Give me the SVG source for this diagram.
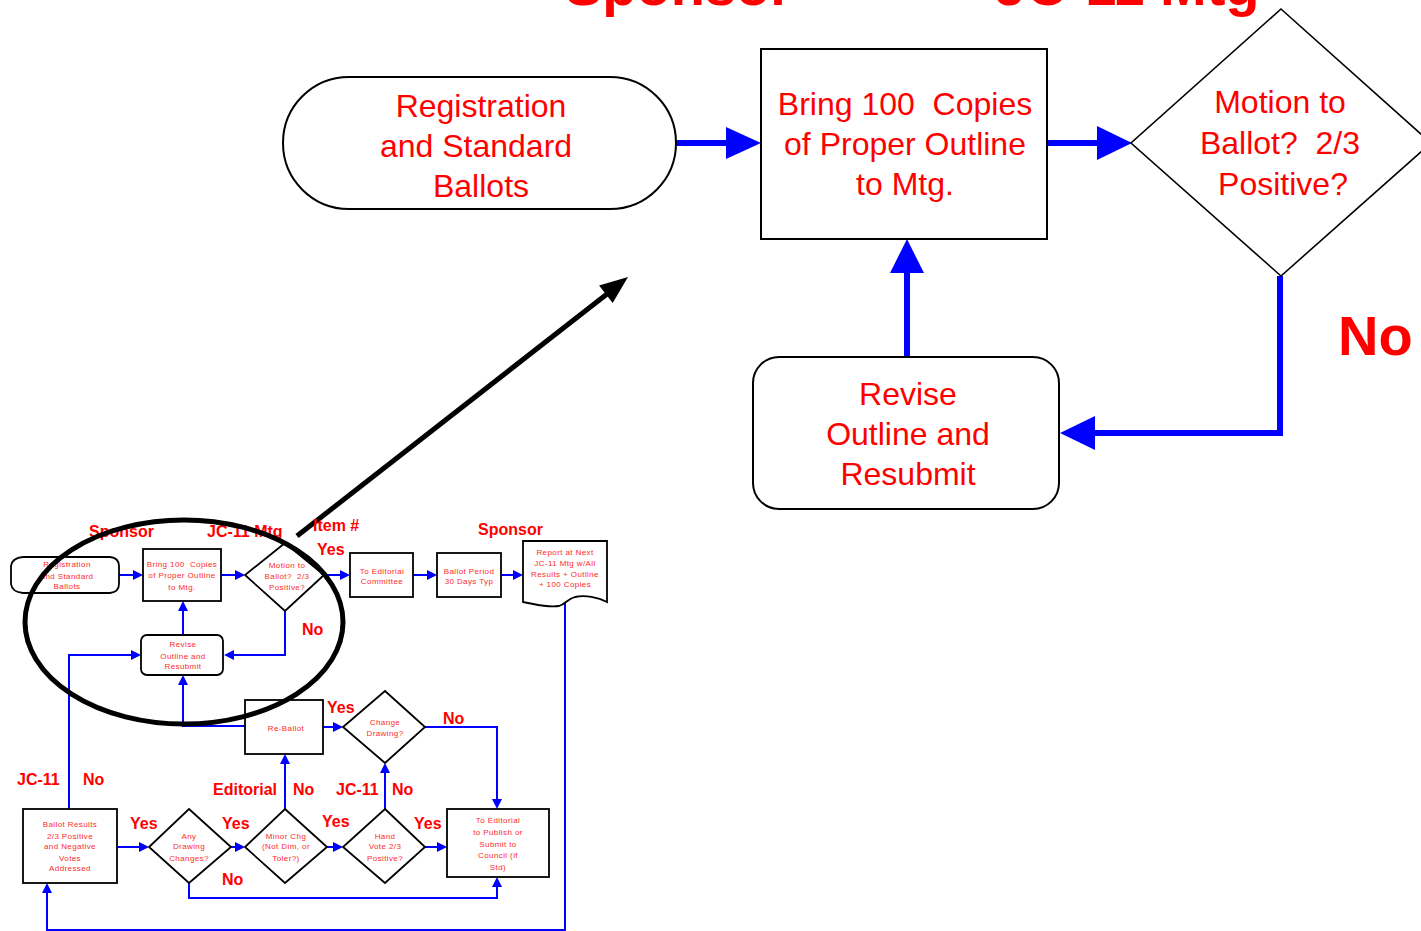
<svg xmlns="http://www.w3.org/2000/svg" width="1421" height="931" viewBox="0 0 1421 931">
<defs>
<style>
.big{font-family:"Liberation Sans",Arial,sans-serif;font-size:32px;fill:#ff0000;text-anchor:middle;white-space:pre}
.sm{font-family:"Liberation Sans",Arial,sans-serif;font-size:8px;letter-spacing:0.4px;fill:#ff2a2a;text-anchor:middle;white-space:pre}
.lbl{font-family:"Liberation Sans",Arial,sans-serif;font-size:16px;font-weight:bold;fill:#ff0000}
.hdr{font-family:"Liberation Sans",Arial,sans-serif;font-size:56px;font-weight:bold;fill:#ff0000}
.shape{fill:#fff;stroke:#000;stroke-width:2}
.sshape{fill:#fff;stroke:#000;stroke-width:1.8}
.bline{fill:none;stroke:#0000ff;stroke-width:6}
.sline{fill:none;stroke:#0000ff;stroke-width:2}
.head{fill:#0000ff}
</style>
</defs>
<rect width="1421" height="931" fill="#fff"/>

<text class="hdr" x="565" y="5">Sponsor</text>
<text class="hdr" x="995" y="5">JC-11 Mtg</text>

<g id="connectors">
  <line class="bline" x1="676" y1="143" x2="727" y2="143"/>
  <polygon class="head" points="726,127 761,143 726,159"/>
  <line class="bline" x1="1047" y1="143" x2="1098" y2="143"/>
  <polygon class="head" points="1097,126 1132,143 1097,160"/>
  <line class="bline" x1="907" y1="357" x2="907" y2="272"/>
  <polygon class="head" points="890,273 907,239 924,273"/>
  <polyline class="bline" points="1280,276 1280,433 1094,433"/>
  <polygon class="head" points="1095,416 1060,433 1095,450"/>
  <line x1="297" y1="536" x2="607" y2="294" stroke="#000" stroke-width="5"/>
  <polygon points="628,277 612.7,303 599.1,285.6" fill="#000"/>
  <line class="sline" x1="119" y1="575" x2="134" y2="575"/><polygon class="head" points="133,570 143,575 133,580"/>
  <line class="sline" x1="221" y1="575" x2="236" y2="575"/><polygon class="head" points="235,570 245,575 235,580"/>
  <line class="sline" x1="324" y1="575" x2="341" y2="575"/><polygon class="head" points="340,570 350,575 340,580"/>
  <line class="sline" x1="413" y1="575" x2="428" y2="575"/><polygon class="head" points="427,570 437,575 427,580"/>
  <line class="sline" x1="501" y1="575" x2="514" y2="575"/><polygon class="head" points="513,570 523,575 513,580"/>
  <polyline class="sline" points="285,611 285,655 233,655"/><polygon class="head" points="234,650 224,655 234,660"/>
  <line class="sline" x1="183" y1="635" x2="183" y2="610"/><polygon class="head" points="178,611 183,601 188,611"/>
  <polyline class="sline" points="245,726 183,726 183,684"/><polygon class="head" points="178,685 183,675 188,685"/>
  <polyline class="sline" points="69,809 69,655 132,655"/><polygon class="head" points="131,650 141,655 131,660"/>
  <polyline class="sline" points="565,600 565,930 47,930 47,892"/><polygon class="head" points="42,893 47,883 52,893"/>
  <line class="sline" x1="323" y1="727" x2="334" y2="727"/><polygon class="head" points="333,722 343,727 333,732"/>
  <polyline class="sline" points="425,727 497,727 497,800"/><polygon class="head" points="492,799 497,809 502,799"/>
  <line class="sline" x1="117" y1="847" x2="140" y2="847"/><polygon class="head" points="139,842 149,847 139,852"/>
  <line class="sline" x1="231" y1="847" x2="236" y2="847"/><polygon class="head" points="235,842 245,847 235,852"/>
  <polyline class="sline" points="189,883 189,898 497,898 497,886"/><polygon class="head" points="492,887 497,877 502,887"/>
  <line class="sline" x1="285" y1="809" x2="285" y2="763"/><polygon class="head" points="280,764 285,754 290,764"/>
  <line class="sline" x1="327" y1="847" x2="334" y2="847"/><polygon class="head" points="333,842 343,847 333,852"/>
  <line class="sline" x1="385" y1="809" x2="385" y2="772"/><polygon class="head" points="380,773 385,763 390,773"/>
  <line class="sline" x1="425" y1="847" x2="438" y2="847"/><polygon class="head" points="437,842 447,847 437,852"/>
</g>

<g id="big-registration">
  <path class="shape" d="M349,77 H610 A66,66 0 0 1 610,209 H349 A66,66 0 0 1 349,77 Z"/>
  <text class="big" x="481" y="117">Registration</text>
  <text class="big" x="476" y="157">and Standard</text>
  <text class="big" x="481" y="197">Ballots</text>
</g>
<g id="big-bring">
  <rect class="shape" x="761" y="49" width="286" height="190"/>
  <text class="big" x="905" y="115">Bring 100  Copies</text>
  <text class="big" x="905" y="155">of Proper Outline</text>
  <text class="big" x="905" y="195">to Mtg.</text>
</g>
<g id="big-motion">
  <polygon class="shape" style="stroke-width:1.6" points="1281,9 1431,143 1281,276 1131,143"/>
  <text class="big" x="1280" y="113">Motion to</text>
  <text class="big" x="1280" y="154">Ballot?  2/3</text>
  <text class="big" x="1283" y="195">Positive?</text>
</g>
<g id="big-revise">
  <rect class="shape" x="753" y="357" width="306" height="152" rx="26" ry="26"/>
  <text class="big" x="908" y="405">Revise</text>
  <text class="big" x="908" y="445">Outline and</text>
  <text class="big" x="908" y="485">Resubmit</text>
</g>
<text class="hdr" x="1338" y="355">No</text>

<g id="s-registration">
  <path class="sshape" d="M23,557 H110 Q119,558 119,566 V584 Q119,592 110,593 H23 Q12,592 11,584 V566 Q12,558 23,557 Z"/>
  <text class="sm" x="67" y="567">Registration</text>
  <text class="sm" x="67" y="579">and Standard</text>
  <text class="sm" x="67" y="589">Ballots</text>
</g>
<g id="s-bring">
  <rect class="sshape" x="143" y="549" width="78" height="52"/>
  <text class="sm" x="182" y="567">Bring 100  Copies</text>
  <text class="sm" x="182" y="578">of Proper Outline</text>
  <text class="sm" x="182" y="590">to Mtg.</text>
</g>
<g id="s-motion">
  <polygon class="sshape" points="285,543 324,575 285,611 245,575"/>
  <text class="sm" x="287" y="568">Motion to</text>
  <text class="sm" x="287" y="579">Ballot?  2/3</text>
  <text class="sm" x="287" y="590">Positive?</text>
</g>
<g id="s-editorial">
  <rect class="sshape" x="350" y="553" width="63" height="44"/>
  <text class="sm" x="382" y="574">To Editorial</text>
  <text class="sm" x="382" y="584">Committee</text>
</g>
<g id="s-ballot-period">
  <rect class="sshape" x="437" y="553" width="64" height="44"/>
  <text class="sm" x="469" y="574">Ballot Period</text>
  <text class="sm" x="469" y="584">30 Days Typ</text>
</g>
<g id="s-report">
  <path class="sshape" d="M523,541 H607 V602 C598,597 585,595 575,597 C567,599 566,604 559,606 C547,608 535,604 523,602 Z"/>
  <text class="sm" x="565" y="555">Report at Next</text>
  <text class="sm" x="565" y="566">JC-11 Mtg w/All</text>
  <text class="sm" x="565" y="577">Results + Outline</text>
  <text class="sm" x="565" y="587">+ 100 Copies</text>
</g>
<g id="s-revise">
  <rect class="sshape" x="141" y="635" width="82" height="40" rx="6" ry="6"/>
  <text class="sm" x="183" y="647">Revise</text>
  <text class="sm" x="183" y="659">Outline and</text>
  <text class="sm" x="183" y="669">Resubmit</text>
</g>
<g id="s-reballot">
  <rect class="sshape" x="245" y="700" width="78" height="54"/>
  <text class="sm" x="286" y="731">Re-Ballot</text>
</g>
<g id="s-change">
  <polygon class="sshape" points="385,691 425,727 385,763 343,727"/>
  <text class="sm" x="385" y="725">Change</text>
  <text class="sm" x="385" y="736">Drawing?</text>
</g>
<g id="s-results">
  <rect class="sshape" x="23" y="809" width="94" height="74"/>
  <text class="sm" x="70" y="827">Ballot Results</text>
  <text class="sm" x="70" y="839">2/3 Positive</text>
  <text class="sm" x="70" y="849">and Negative</text>
  <text class="sm" x="70" y="861">Votes</text>
  <text class="sm" x="70" y="871">Addressed</text>
</g>
<g id="s-any">
  <polygon class="sshape" points="189,809 231,847 189,883 149,847"/>
  <text class="sm" x="189" y="839">Any</text>
  <text class="sm" x="189" y="849">Drawing</text>
  <text class="sm" x="189" y="861">Changes?</text>
</g>
<g id="s-minor">
  <polygon class="sshape" points="285,809 327,847 285,883 245,847"/>
  <text class="sm" x="286" y="839">Minor Chg</text>
  <text class="sm" x="286" y="849">(Not Dim, or</text>
  <text class="sm" x="286" y="861">Toler?)</text>
</g>
<g id="s-hand">
  <polygon class="sshape" points="385,809 425,847 385,883 343,847"/>
  <text class="sm" x="385" y="839">Hand</text>
  <text class="sm" x="385" y="849">Vote 2/3</text>
  <text class="sm" x="385" y="861">Positive?</text>
</g>
<g id="s-toeditorial">
  <rect class="sshape" x="447" y="809" width="102" height="68"/>
  <text class="sm" x="498" y="823">To Editorial</text>
  <text class="sm" x="498" y="835">to Publish or</text>
  <text class="sm" x="498" y="847">Submit to</text>
  <text class="sm" x="498" y="858">Council (if</text>
  <text class="sm" x="498" y="870">Std)</text>
</g>

<g id="labels">
  <text class="lbl" x="89" y="537">Sponsor</text>
  <text class="lbl" x="207" y="537">JC-11 Mtg</text>
  <text class="lbl" x="313" y="531">Item #</text>
  <text class="lbl" x="317" y="555">Yes</text>
  <text class="lbl" x="478" y="535">Sponsor</text>
  <text class="lbl" x="302" y="635">No</text>
  <text class="lbl" x="327" y="713">Yes</text>
  <text class="lbl" x="443" y="724">No</text>
  <text class="lbl" x="213" y="795">Editorial</text>
  <text class="lbl" x="293" y="795">No</text>
  <text class="lbl" x="336" y="795">JC-11</text>
  <text class="lbl" x="392" y="795">No</text>
  <text class="lbl" x="17" y="785">JC-11</text>
  <text class="lbl" x="83" y="785">No</text>
  <text class="lbl" x="130" y="829">Yes</text>
  <text class="lbl" x="222" y="829">Yes</text>
  <text class="lbl" x="222" y="885">No</text>
  <text class="lbl" x="322" y="827">Yes</text>
  <text class="lbl" x="414" y="829">Yes</text>
</g>

<ellipse cx="184" cy="622" rx="159" ry="102" fill="none" stroke="#000" stroke-width="5"/>
</svg>
